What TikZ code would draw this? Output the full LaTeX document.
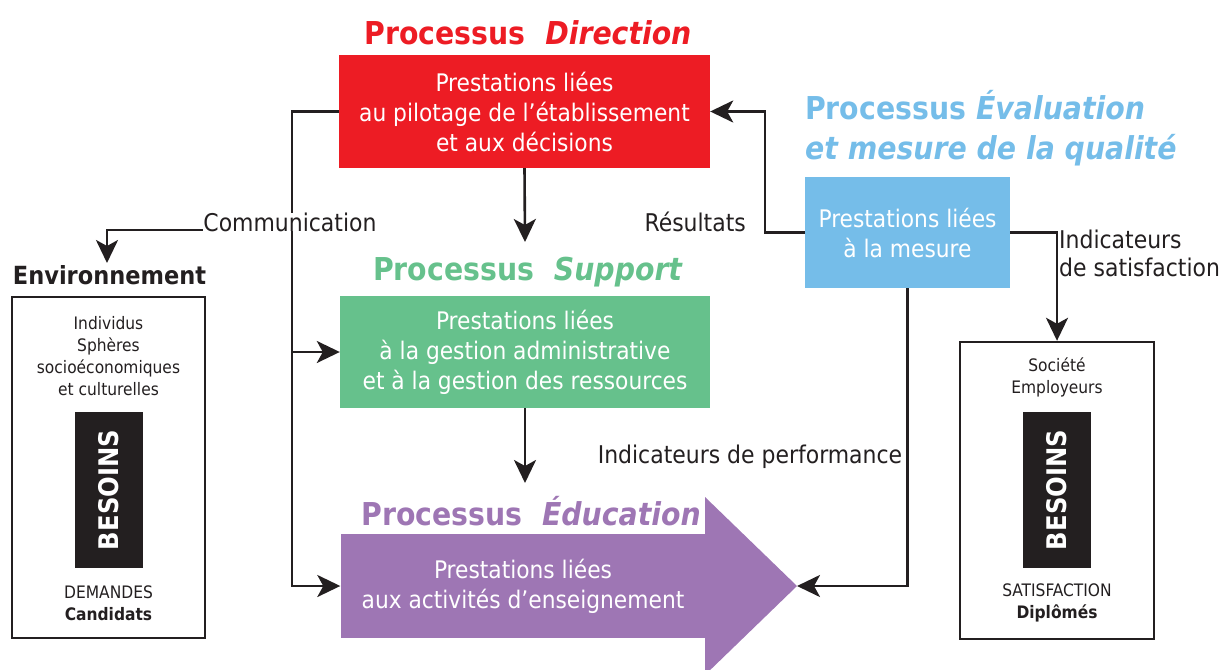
\documentclass[tikz,border=0pt]{standalone}
\usepackage{fontspec}
\setmainfont{DejaVu Sans Condensed}
\usetikzlibrary{arrows.meta,calc}
\definecolor{cred}{HTML}{ED1C24}
\definecolor{cgreen}{HTML}{66C18C}
\definecolor{cpurple}{HTML}{9E76B4}
\definecolor{cblue}{HTML}{75BDE9}
\definecolor{cblack}{HTML}{231F20}
\begin{document}
\begin{tikzpicture}[x=1pt,y=-1pt,
  line/.style={draw=cblack,line width=2.6pt},
  arr/.style={line,-{Stealth[length=23pt,width=22pt,inset=6pt]}},
  procbox/.style={rectangle,inner sep=0pt,text=white,align=center,font=\fontsize{24.2}{30}\selectfont},
  ttl/.style={inner sep=0pt,font=\fontsize{31.5}{40}\selectfont\bfseries},
  lbl/.style={inner sep=1pt,text=cblack,font=\fontsize{24.4}{28}\selectfont},
  sidebox/.style={rectangle,draw=cblack,line width=2.4pt,inner sep=0pt},
  small/.style={inner sep=0pt,text=cblack,align=center,font=\fontsize{17.2}{22}\selectfont},
  besoins/.style={rectangle,fill=cblack,inner sep=0pt,minimum width=68pt,minimum height=156pt},
  bestext/.style={rotate=90,text=white,inner sep=0pt,font=\fontsize{27}{27}\selectfont\bfseries}
]
\useasboundingbox (0,0) rectangle (1222,669);
\begin{scope}
\clip (0,0) rectangle (1222,669);

% Titles
\node[ttl,text=cred] (dirT) at (528,33) {Processus\ \ \textit{Direction}};
\node[ttl,text=cgreen] (supT) at (528,272) {Processus\ \ \textit{Support}};
\node[ttl,text=cpurple] (eduT) at (531,511) {Processus\ \ \textit{Éducation}};
\node[ttl,text=cblue,anchor=north west,align=left] (evaT) at (805,90) {Processus \textit{Évaluation}\\\textit{et mesure de la qualité}};

% Process boxes
\node[procbox,fill=cred,minimum width=371pt,minimum height=113pt] (dir) at (524.5,111.5) {Prestations liées\\au pilotage de l’établissement\\et aux décisions};
\node[procbox,fill=cgreen,minimum width=370pt,minimum height=112pt] (sup) at (525,352) {Prestations liées\\à la gestion administrative\\et à la gestion des ressources};
\fill[cpurple] (705,497) -- (797,586) -- (705,675) -- cycle;
\node[procbox,fill=cpurple,minimum width=365pt,minimum height=104pt] (edu) at (523,586) {Prestations liées\\aux activités d’enseignement};
\coordinate (tip) at (797,586);
\node[procbox,fill=cblue,minimum width=205pt,minimum height=111pt] (eva) at (907.5,232.5) {Prestations liées\\à la mesure};

% Side boxes
\node[ttl,text=cblack,font=\fontsize{25}{30}\selectfont\bfseries] (envT) at (109.5,275) {Environnement};
\node[sidebox,minimum width=193pt,minimum height=341pt] (env) at (108.5,467.5) {};
\node[small] (envtop) at (108.5,356) {Individus\\Sphères\\socioéconomiques\\et culturelles};
\node[besoins] (envB) at (109,490) {};
\node[bestext] at (envB) {BESOINS};
\node[small] (envbot) at (108.5,603) {DEMANDES\\\textbf{Candidats}};

\node[sidebox,minimum width=194pt,minimum height=297pt] (soc) at (1057,490.5) {};
\node[small] (soctop) at (1057,377) {Société\\Employeurs};
\node[besoins] (socB) at (1057,490) {};
\node[bestext] at (socB) {BESOINS};
\node[small] (socbot) at (1057,603) {SATISFACTION\\\textbf{Diplômés}};

% Coordinates
\coordinate (L1) at (292,111.5);
\coordinate (L2) at (292,586);
\coordinate (L3) at (292,352);
\coordinate (C1) at (292,230);
\coordinate (C2) at (107,230);
\coordinate (C3) at (107,263);
\coordinate (D1) at (525,242);
\coordinate (S1) at (525,483);
\coordinate (R1) at (765,232.5);
\coordinate (R2) at (765,111.5);

% Connectors
\draw[arr] (dir.south) -- (D1);
\draw[arr] (sup.south) -- (S1);
\draw[arr] (dir.west) -- (L1) -- (L2) -- (edu.west);
\draw[arr] (L3) -- (sup.west);
\draw[arr] (C1) -- (C2) -- (C3);
\draw[arr] (eva.west) -- (R1) -- (R2) -- (dir.east);
\draw[arr] (eva.east) -| (soc.north);
\draw[arr] (eva.south) |- (tip);

% Labels
\node[lbl,fill=white,inner sep=0pt] (comm) at (290,222) {Communication};
\node[lbl,anchor=east] (res) at (747,222) {Résultats};
\node[lbl,anchor=north west,align=left] (sat) at (1058,229) {Indicateurs\\de satisfaction};
\node[lbl] (perf) at (750,457) {Indicateurs de performance};
\end{scope}
\end{tikzpicture}
\end{document}
